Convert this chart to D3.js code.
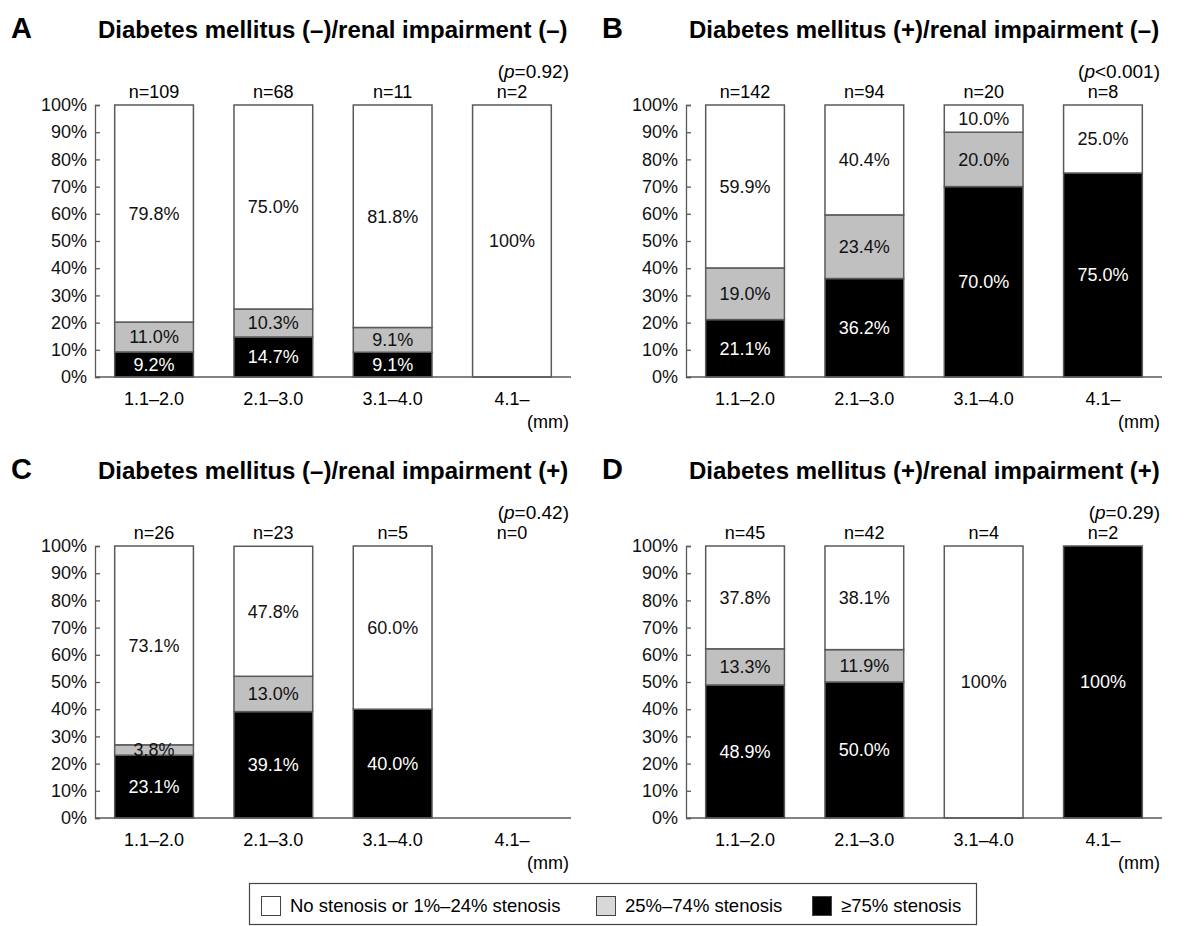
<!DOCTYPE html>
<html>
<head>
<meta charset="utf-8">
<script src="https://cdnjs.cloudflare.com/ajax/libs/d3/7.8.5/d3.min.js"></script>
<style>
  body { margin: 0; background: #fff; }
  svg { font-family: "Liberation Sans", Arial, sans-serif; }
</style>
</head>
<body>
<div id="chart"></div>
<script>
// Diameter categories (mm)
const categories = ['1.1\u20132.0', '2.1\u20133.0', '3.1\u20134.0', '4.1\u2013'];
const yTicks = [0, 10, 20, 30, 40, 50, 60, 70, 80, 90, 100];

const panelLetters = ['A', 'B', 'C', 'D'];
const panelTitles = [
  'Diabetes mellitus (\u2013)/renal impairment (\u2013)',
  'Diabetes mellitus (+)/renal impairment (\u2013)',
  'Diabetes mellitus (\u2013)/renal impairment (+)',
  'Diabetes mellitus (+)/renal impairment (+)'
];
const pValues = ['=0.92', '<0.001', '=0.42', '=0.29'];

const nA = [109, 68, 11, 2];
const severeA = [9.2, 14.7, 9.1, 0];
const moderateA = [11.0, 10.3, 9.1, 0];
const mildA = [79.8, 75.0, 81.8, 100];

const nB = [142, 94, 20, 8];
const severeB = [21.1, 36.2, 70.0, 75.0];
const moderateB = [19.0, 23.4, 20.0, 0];
const mildB = [59.9, 40.4, 10.0, 25.0];

const nC = [26, 23, 5, 0];
const severeC = [23.1, 39.1, 40.0, 0];
const moderateC = [3.8, 13.0, 0, 0];
const mildC = [73.1, 47.8, 60.0, 0];

const nD = [45, 42, 4, 2];
const severeD = [48.9, 50.0, 0, 100];
const moderateD = [13.3, 11.9, 0, 0];
const mildD = [37.8, 38.1, 100, 0];

const legendLabels = ['No stenosis or 1%\u201324% stenosis', '25%\u201374% stenosis', '\u226575% stenosis'];

const panels = [
  { n: nA, series: [severeA, moderateA, mildA] },
  { n: nB, series: [severeB, moderateB, mildB] },
  { n: nC, series: [severeC, moderateC, mildC] },
  { n: nD, series: [severeD, moderateD, mildD] }
];

// stack order bottom -> top
const fills = ['#000000', '#c0c0c0', '#ffffff'];
const textFills = ['#ffffff', '#111111', '#111111'];
const strokeCol = '#5a5a5a';

const width = 1192, height = 926;
const svg = d3.select('#chart').append('svg')
  .attr('width', width)
  .attr('height', height);

const axisX0 = 95, axisX1 = 571;

const x = d3.scaleBand()
  .domain(categories)
  .range([axisX0, axisX1])
  .paddingInner(0.34)
  .paddingOuter(0.165);

const y = d3.scaleLinear()
  .domain([0, 100])
  .range([377, 105]);

const fmt = v => v === 100 ? '100%' : v.toFixed(1) + '%';

panels.forEach((p, pi) => {
  const ox = (pi % 2) * 591;
  const oy = Math.floor(pi / 2) * 441;
  const g = svg.append('g').attr('transform', `translate(${ox},${oy})`);

  g.append('text')
    .attr('x', 11).attr('y', 38)
    .style('font-size', '29px').style('font-weight', 'bold')
    .text(panelLetters[pi]);

  g.append('text')
    .attr('x', 98).attr('y', 38)
    .style('font-size', '24px').style('font-weight', 'bold')
    .text(panelTitles[pi]);

  const pt = g.append('text')
    .attr('x', 569).attr('y', 78)
    .attr('text-anchor', 'end')
    .style('font-size', '19px');
  pt.append('tspan').text('(');
  pt.append('tspan').style('font-style', 'italic').text('p');
  pt.append('tspan').text(pValues[pi] + ')');

  // n labels
  g.selectAll('.nlab')
    .data(categories)
    .enter().append('text')
    .attr('x', d => x(d) + x.bandwidth() / 2)
    .attr('y', 98)
    .attr('text-anchor', 'middle')
    .style('font-size', '18px')
    .text((d, i) => 'n=' + p.n[i]);

  // stacked bars
  const rows = categories.map((c, i) => {
    const r = { cat: c };
    p.series.forEach((s, k) => { r['s' + k] = s[i]; });
    return r;
  });
  const stack = d3.stack().keys(['s0', 's1', 's2'])(rows);

  stack.forEach((layer, k) => {
    const lg = g.append('g');
    layer.forEach(seg => {
      const v = seg[1] - seg[0];
      if (v <= 0) return;
      lg.append('rect')
        .attr('x', x(seg.data.cat))
        .attr('y', y(seg[1]))
        .attr('width', x.bandwidth())
        .attr('height', y(seg[0]) - y(seg[1]))
        .attr('fill', fills[k])
        .attr('stroke', strokeCol)
        .attr('stroke-width', 1.5);
    });
  });

  stack.forEach((layer, k) => {
    layer.forEach(seg => {
      const v = seg[1] - seg[0];
      if (v <= 0) return;
      g.append('text')
        .attr('x', x(seg.data.cat) + x.bandwidth() / 2)
        .attr('y', y((seg[0] + seg[1]) / 2))
        .attr('dy', '0.36em')
        .attr('text-anchor', 'middle')
        .attr('fill', textFills[k])
        .style('font-size', '18px')
        .text(fmt(v));
    });
  });

  // y axis
  const ya = g.append('g')
    .attr('transform', `translate(${axisX0},0)`)
    .call(d3.axisLeft(y).tickValues(yTicks).tickFormat(d => d + '%')
      .tickSizeInner(-5).tickSizeOuter(-5).tickPadding(8));
  ya.selectAll('path, line').attr('stroke', strokeCol).attr('stroke-width', 1.3);
  ya.selectAll('text').style('font-size', '18px').attr('fill', '#111');

  // baseline
  g.append('line')
    .attr('x1', axisX0).attr('x2', axisX1)
    .attr('y1', y(0)).attr('y2', y(0))
    .attr('stroke', strokeCol).attr('stroke-width', 1.5);

  // x labels
  g.selectAll('.xlab')
    .data(categories)
    .enter().append('text')
    .attr('x', d => x(d) + x.bandwidth() / 2)
    .attr('y', 405)
    .attr('text-anchor', 'middle')
    .style('font-size', '18px')
    .text(d => d);

  g.append('text')
    .attr('x', 569).attr('y', 428)
    .attr('text-anchor', 'end')
    .style('font-size', '18px')
    .text('(mm)');
});

// legend
const leg = svg.append('g');
leg.append('rect')
  .attr('x', 249.5).attr('y', 883.5)
  .attr('width', 727).attr('height', 41)
  .attr('fill', 'none').attr('stroke', '#444').attr('stroke-width', 1.2);

const legX = [261, 596, 812];
const legendFills = ['#ffffff', '#d8d8d8', '#000000'];
legendLabels.forEach((lab, i) => {
  leg.append('rect')
    .attr('x', legX[i] + 0.5).attr('y', 896.5)
    .attr('width', 19).attr('height', 19)
    .attr('fill', legendFills[i]).attr('stroke', '#444');
  leg.append('text')
    .attr('x', legX[i] + 29).attr('y', 912)
    .style('font-size', '18.5px')
    .text(lab);
});
</script>
</body>
</html>
